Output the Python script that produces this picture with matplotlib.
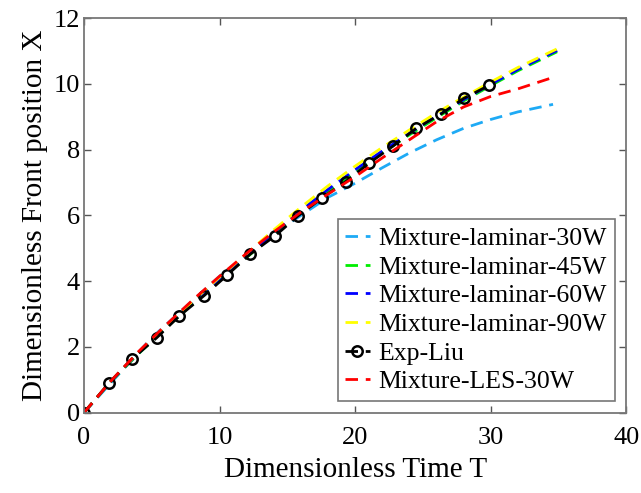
import matplotlib
matplotlib.use("Agg")
import matplotlib.pyplot as plt

# Experimental data (Exp-Liu)
T_exp = [0, 1.87, 3.52, 5.37, 7.03, 8.86, 10.58, 12.25, 14.1, 15.8, 17.59, 19.3,
         21.03, 22.83, 24.5, 26.35, 28.0, 29.9]
X_exp = [0, 0.91, 1.63, 2.28, 2.94, 3.56, 4.19, 4.82, 5.38, 5.99, 6.54, 7.03,
         7.59, 8.12, 8.65, 9.09, 9.56, 9.96]

# Mixture-laminar-30W
T_30 = [0, 5, 10, 14, 16, 18, 20, 22, 24, 26, 28, 30, 32, 34.6]
X_30 = [0, 2.28, 4.15, 5.45, 6.0, 6.55, 6.98, 7.45, 7.9, 8.3, 8.65, 8.92, 9.15, 9.38]

# Mixture-laminar 45W / 60W / 90W
T_lam = [0, 2, 4, 6, 8, 10, 12, 14, 16, 18, 20, 22, 24, 26, 28, 30, 32, 34.9]
X_45 = [0, 0.95, 1.78, 2.56, 3.3, 4.02, 4.72, 5.42, 6.1, 6.73, 7.33, 7.9, 8.45,
        8.97, 9.48, 9.95, 10.4, 10.98]
X_60 = [0, 0.96, 1.8, 2.58, 3.33, 4.05, 4.76, 5.47, 6.15, 6.79, 7.39, 7.96, 8.5,
        9.02, 9.52, 9.99, 10.44, 11.02]
X_90 = [0, 0.97, 1.82, 2.62, 3.38, 4.12, 4.84, 5.56, 6.25, 6.9, 7.5, 8.07, 8.6,
        9.12, 9.6, 10.06, 10.5, 11.07]

# Mixture-LES-30W
T_les = [0, 2, 4, 6, 8, 10, 12, 14, 16, 18, 20, 22, 24, 26, 28, 30, 32, 34.6]
X_les = [0, 0.97, 1.85, 2.65, 3.42, 4.15, 4.85, 5.5, 6.1, 6.65, 7.18, 7.75, 8.3,
         8.85, 9.3, 9.62, 9.85, 10.2]

plt.rcParams['font.family'] = ['Liberation Serif', 'DejaVu Serif']

fig = plt.figure(figsize=(6.41, 4.93), dpi=100)
ax = fig.add_axes([0.131, 0.163, 0.846, 0.8])

dash = (0, (4.5, 2.8))
lw = 2.0
ax.plot(T_30, X_30, color='#1EAAF5', lw=lw, ls=dash, label='Mixture-laminar-30W')
ax.plot(T_lam, X_45, color='#00EE00', lw=lw, ls=dash, label='Mixture-laminar-45W')
ax.plot(T_lam, X_60, color='#0000FF', lw=lw, ls=dash, label='Mixture-laminar-60W')
ax.plot(T_lam, X_90, color='#FFFF00', lw=lw, ls=dash, label='Mixture-laminar-90W')
ax.plot(T_exp, X_exp, color='black', lw=lw, ls=dash, marker='o', ms=7.5,
        mfc='none', mec='black', mew=1.8, label='Exp-Liu')
ax.plot(T_les, X_les, color='#FF0000', lw=lw, ls=dash, label='Mixture-LES-30W')

ax.set_xlim(0, 40)
ax.set_ylim(0, 12)
ax.set_xticks([0, 10, 20, 30, 40])
ax.set_yticks([0, 2, 4, 6, 8, 10, 12])
ax.tick_params(direction='in', length=5, width=1, colors='#555555',
               labelcolor='black', labelsize=19, top=True, right=True)
ax.tick_params(axis='x', pad=10)
ax.tick_params(axis='y', pad=3)
for s in ax.spines.values():
    s.set_color('#777777')
    s.set_linewidth(1.3)

ax.set_xlabel('Dimensionless Time T', fontsize=21, labelpad=6)
ax.set_ylabel('Dimensionless Front position X', fontsize=21, labelpad=4)

leg = ax.legend(loc='lower right', fontsize=18.5, frameon=True, fancybox=False,
                handlelength=0.95, handletextpad=0.35, labelspacing=0.22,
                borderpad=0.3, borderaxespad=0.45, framealpha=1)
leg.get_frame().set_edgecolor('#777777')
leg.get_frame().set_linewidth(1.2)

fig.savefig('out.png', dpi=100)
